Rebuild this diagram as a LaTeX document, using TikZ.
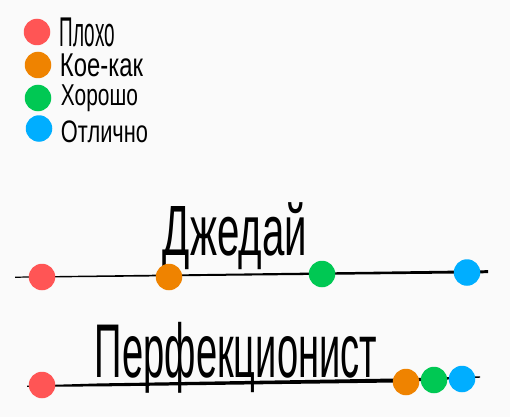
\documentclass[tikz,border=0pt]{standalone}
\usepackage{fontspec}
\setmainfont{Liberation Sans}
\usepackage{graphicx}
\definecolor{bgc}{HTML}{FAFAFA}
\definecolor{cbad}{HTML}{FF5555}
\definecolor{cmid}{HTML}{EF8300}
\definecolor{cgood}{HTML}{00C853}
\definecolor{cbest}{HTML}{00AEFF}
\newcommand{\fitbox}[3]{\resizebox*{#1}{#2}{#3}}
\begin{document}
\begin{tikzpicture}[x=1pt,y=-1pt,
  dot/.style={circle,inner sep=0pt,minimum size=26.5pt,draw=none},
  lbl/.style={inner sep=0pt,anchor=center,text=black}]
\fill[bgc] (0,0) rectangle (510,417);
\useasboundingbox (0,0) rectangle (510,417);

% legend
\node[dot,fill=cbad]  (l1) at (37,32) {};
\node[dot,fill=cmid]  (l2) at (38,65) {};
\node[dot,fill=cgood] (l3) at (38,98) {};
\node[dot,fill=cbest] (l4) at (39,128.5) {};
\node[lbl] (t1) at (87.5,32) {\fitbox{55pt}{29pt}{Плохо}};
\node[lbl] (t2) at (101.5,65.5) {\fitbox{83pt}{23pt}{Кое-как}};
\node[lbl] (t3) at (99.5,98.5) {\fitbox{77pt}{27pt}{Хорошо}};
\node[lbl] (t4) at (104.5,132) {\fitbox{87pt}{22pt}{Отлично}};

% Jedi line
\coordinate (j0) at (15,277.2);
\coordinate (j1) at (488,272);
\fill[black] ([yshift=0.6pt]j0) -- ([yshift=1.8pt]j1) -- ([yshift=-1.2pt]j1) -- ([yshift=-0.6pt]j0) -- cycle;
\node[lbl] (jt) at (235,236.5) {\fitbox{144pt}{67pt}{Джедай}};
\node[dot,fill=cbad]  (j1d) at (42,277) {};
\node[dot,fill=cmid]  (j2d) at (169,277) {};
\node[dot,fill=cgood] (j3d) at (322,274) {};
\node[dot,fill=cbest] (j4d) at (467,272.5) {};

% Perfectionist line
\coordinate (p0) at (27,386.2);
\coordinate (pa) at (100,385);
\coordinate (pb) at (395,380.5);
\coordinate (p1) at (480,377);
\fill[black] ([yshift=0.6pt]p0) -- ([yshift=1.6pt]pa) -- ([yshift=2pt]pb) -- ([yshift=0.7pt]p1) -- ([yshift=-0.7pt]p1) -- ([yshift=-2pt]pb) -- ([yshift=-1.4pt]pa) -- ([yshift=-0.6pt]p0) -- cycle;
\node[lbl] (pt) at (236,357.5) {\fitbox{282pt}{71pt}{Перфекционист}};
\node[dot,fill=cbad]  (p1d) at (42,385) {};
\node[dot,fill=cmid]  (p2d) at (406,382) {};
\node[dot,fill=cgood] (p3d) at (434,380) {};
\node[dot,fill=cbest] (p4d) at (462,379) {};
\end{tikzpicture}
\end{document}
